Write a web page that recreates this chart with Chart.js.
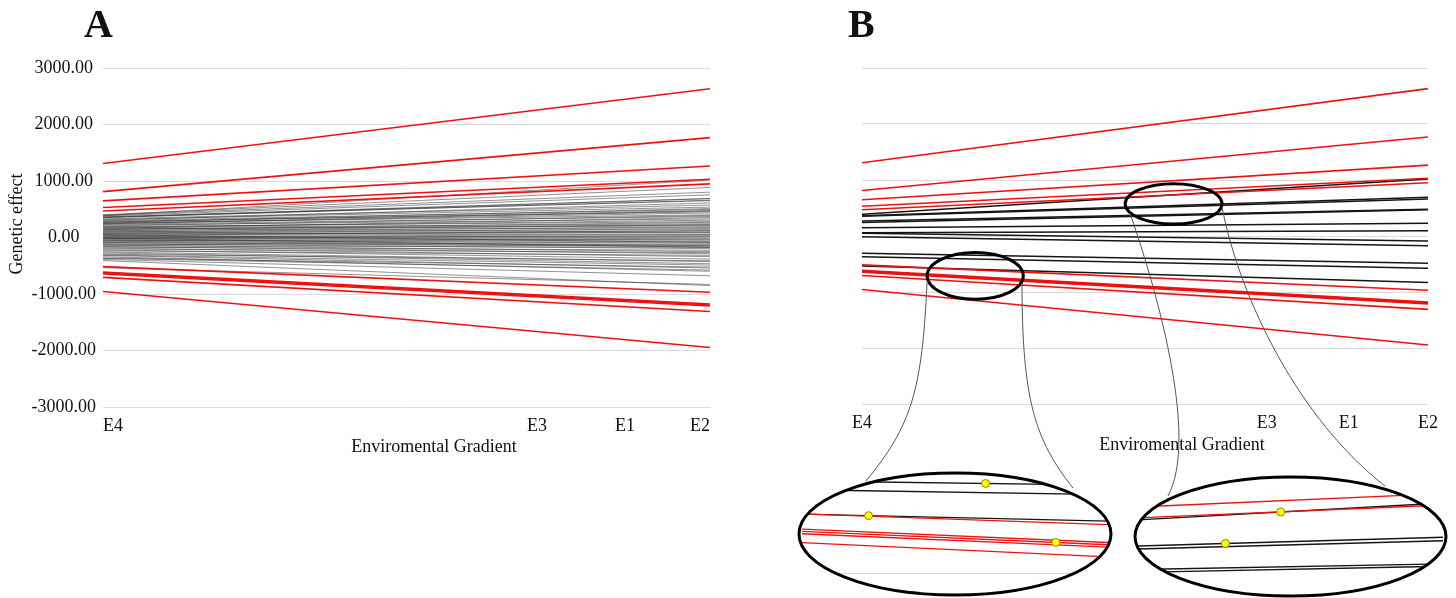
<!DOCTYPE html>
<html lang="en">
<head>
<meta charset="UTF-8">
<title>Genetic effect along the environmental gradient</title>
<script src="https://cdn.jsdelivr.net/npm/chart.js@4.4.1/dist/chart.umd.min.js"></script>
<style>
  html, body { margin: 0; padding: 0; background: #fff; }
  #fig { position: relative; width: 1456px; height: 598px; overflow: hidden; }
  #fig canvas { position: absolute; }
</style>
</head>
<body>
<div id="fig">
  <canvas id="chartA" style="left:0;top:0" width="728" height="470"></canvas>
  <canvas id="chartB" style="left:728px;top:0" width="728" height="598"></canvas>
  <canvas id="zoomLeft" style="left:797px;top:471px" width="316" height="126"></canvas>
  <canvas id="zoomRight" style="left:1133px;top:475px" width="315" height="123"></canvas>
</div>
<script>
// environments along the gradient
const envLabels = ['E4', 'E3', 'E1', 'E2'];
const envPos = [0, 0.715, 0.86, 1];
const yTicks = [-3000, -2000, -1000, 0, 1000, 2000, 3000];

// red genotypes: genetic effect at E4 and at E2
const redE4 = [1309, 812, 648, 530, 470, -515, -612, -628, -645, -705, -955];
const redE2 = [2632, 1768, 1265, 1030, 950, -968, -1178, -1195, -1212, -1310, -1946];

// black genotypes kept in panel B
const keyE4 = [387, 362, 352, 268, 240, 148, 59, 50, -12, -309, -369, -535];
const keyE2 = [1018, 690, 660, 477, 470, 226, 95, -89, -173, -488, -577, -830];

// the other genotypes (panel A only)
const otherE4 = [402, 395, 381, 366, 352, 331, 318, 305, 296, 284, 271, 259, 247, 233, 219, 204, 193, 181, 172, 163,
  151, 139, 127, 118, 104, 96, 85, 73, 64, 42, 33, 21, 12, 3, -8, -17, -26, -38, -47, -55,
  -66, -78, -87, -98, -112, -121, -134, -146, -158, -171, -186, -203, -219, -237, -256, -274, -296, -318, -341, -363, -387, -408];
const otherE2 = [886, 802, 755, 651, 688, 574, 538, 612, 497, 455, 512, 402, 436, 371, 329, 388, 281, 306, 244, 352,
  207, 268, 173, 225, 139, 191, 112, 158, 87, 61, 124, 18, 53, -21, 34, -47, 7, -66, -102, -31,
  -138, -79, -164, -121, -197, -143, -251, -176, -288, -226, -339, -268, -382, -316, -427, -464, -412, -541, -598, -523, -677, -851];

// zoomed windows of panel B (gradient position, genetic effect)
const zoomLeftX = [0.115, 0.285];
const zoomLeftY = [-1130, -294];
const zoomRightX = [0.465, 0.636];
const zoomRightY = [216, 934];

// yellow marks inside the zooms
const dotsLeftX = [0.217, 0.152, 0.256];
const dotsLeftY = [-348, -580, -773];
const dotsRightX = [0.545, 0.514];
const dotsRightY = [731, 531];

const SERIF = '"Liberation Serif", "Times New Roman", serif';
const RED = '#ee1111';
Chart.defaults.font.family = SERIF;
Chart.defaults.color = '#111';
Chart.defaults.animation = false;

function lines(e4, e2, color, width) {
  return e4.map((v, i) => ({
    data: [{x: envPos[0], y: v}, {x: envPos[envPos.length - 1], y: e2[i]}],
    borderColor: color,
    borderWidth: width,
    pointRadius: 0,
    tension: 0
  }));
}

const panelText = {
  id: 'panelText',
  afterDraw(chart, args, o) {
    const ctx = chart.ctx;
    ctx.save();
    ctx.fillStyle = '#111';
    ctx.font = 'bold 40px ' + SERIF;
    ctx.textAlign = 'left';
    ctx.textBaseline = 'alphabetic';
    ctx.fillText(o.letter, o.letterX, o.letterY);
    ctx.font = '18px ' + SERIF;
    ctx.textAlign = 'center';
    ctx.textBaseline = 'middle';
    ctx.fillText(o.xTitle, o.xTitleX, o.xTitleY);
    if (o.yTitle) {
      ctx.translate(o.yTitleX, o.yTitleY);
      ctx.rotate(-Math.PI / 2);
      ctx.fillText(o.yTitle, 0, 0);
    }
    ctx.restore();
  }
};

function mainScales(align, yWidth, showY) {
  return {
    x: {
      type: 'linear', min: 0, max: 1,
      afterBuildTicks: s => { s.ticks = envPos.map(v => ({value: v})); },
      afterFit: s => { s.height = 40; },
      ticks: { callback: (v, i) => envLabels[i], align: align, padding: 0, autoSkip: false, maxRotation: 0, font: {size: 18} },
      grid: { display: false },
      border: { display: false }
    },
    y: {
      min: -3000, max: 3000,
      afterBuildTicks: s => { s.ticks = yTicks.map(v => ({value: v})); },
      afterFit: s => { s.width = yWidth; },
      ticks: { display: showY, callback: v => v.toFixed(2), crossAlign: 'center', padding: 7, font: {size: 18} },
      grid: { color: '#dcdcdc', lineWidth: 1, drawTicks: false },
      border: { display: false }
    }
  };
}

// panel A
new Chart(document.getElementById('chartA'), {
  type: 'line',
  data: {
    datasets: [
      ...lines(redE4, redE2, RED, 1.6),
      ...lines(keyE4, keyE2, 'rgba(40,40,40,0.5)', 1),
      ...lines(otherE4, otherE2, 'rgba(40,40,40,0.5)', 1)
    ]
  },
  options: {
    responsive: false,
    layout: { padding: {top: 68, left: 0, right: 18, bottom: 23} },
    scales: mainScales('inner', 103, true),
    plugins: {
      legend: { display: false },
      tooltip: { enabled: false },
      panelText: { letter: 'A', letterX: 84, letterY: 37, xTitle: 'Enviromental Gradient', xTitleX: 434, xTitleY: 447,
        yTitle: 'Genetic effect', yTitleX: 17, yTitleY: 224 }
    }
  },
  plugins: [panelText]
});

// panel B: small ellipses and the curves leading to the zooms
const zoomMarks = {
  id: 'zoomMarks',
  afterDraw(chart) {
    const {ctx, scales: {x, y}} = chart;
    ctx.save();
    ctx.strokeStyle = '#000';
    ctx.lineWidth = 3;
    [[zoomLeftX, zoomLeftY], [zoomRightX, zoomRightY]].forEach(([xr, yr]) => {
      const x0 = x.getPixelForValue(xr[0]), x1 = x.getPixelForValue(xr[1]);
      const y0 = y.getPixelForValue(yr[0]), y1 = y.getPixelForValue(yr[1]);
      ctx.beginPath();
      ctx.ellipse((x0 + x1) / 2, (y0 + y1) / 2, (x1 - x0) / 2, Math.abs(y0 - y1) / 2, 0, 0, Math.PI * 2);
      ctx.stroke();
    });
    // connector curves (page coordinates, shifted into this canvas)
    const dx = -728;
    const curves = [
      [927, 283, 922, 390, 912, 425, 866, 481],
      [1022, 283, 1022, 400, 1035, 440, 1073, 488],
      [1130, 213, 1160, 300, 1198, 440, 1168, 496],
      [1222, 207, 1240, 300, 1300, 420, 1385, 486]
    ];
    ctx.strokeStyle = '#555';
    ctx.lineWidth = 1;
    curves.forEach(c => {
      ctx.beginPath();
      ctx.moveTo(c[0] + dx, c[1]);
      ctx.bezierCurveTo(c[2] + dx, c[3], c[4] + dx, c[5], c[6] + dx, c[7]);
      ctx.stroke();
    });
    ctx.restore();
  }
};

new Chart(document.getElementById('chartB'), {
  type: 'line',
  data: {
    datasets: [
      ...lines(redE4, redE2, RED, 1.6),
      ...lines(keyE4, keyE2, '#151515', 1.5)
    ]
  },
  options: {
    responsive: false,
    layout: { padding: {top: 68, left: 0, right: 28, bottom: 154} },
    scales: mainScales('center', 134, false),
    plugins: {
      legend: { display: false },
      tooltip: { enabled: false },
      panelText: { letter: 'B', letterX: 120, letterY: 37, xTitle: 'Enviromental Gradient', xTitleX: 454, xTitleY: 445 }
    }
  },
  plugins: [panelText, zoomMarks]
});

// zoom insets, clipped to an ellipse
const ellipseFrame = {
  id: 'ellipseFrame',
  beforeDraw(chart) {
    const {ctx, width, height} = chart;
    ctx.save();
    ctx.beginPath();
    ctx.ellipse(width / 2, height / 2, width / 2 - 2, height / 2 - 2, 0, 0, Math.PI * 2);
    ctx.clip();
  },
  afterDraw(chart) {
    const {ctx, width, height} = chart;
    ctx.restore();
    ctx.save();
    ctx.beginPath();
    ctx.ellipse(width / 2, height / 2, width / 2 - 2, height / 2 - 2, 0, 0, Math.PI * 2);
    ctx.lineWidth = 3;
    ctx.strokeStyle = '#000';
    ctx.stroke();
    ctx.restore();
  }
};

function inset(id, xr, yr, dx, dy) {
  new Chart(document.getElementById(id), {
    type: 'line',
    data: {
      datasets: [
        {
          type: 'scatter',
          data: dx.map((v, i) => ({x: v, y: dy[i]})),
          pointRadius: 4,
          pointBackgroundColor: '#ffff00',
          pointBorderColor: '#8a8a00',
          pointBorderWidth: 1,
          showLine: false
        },
        ...lines(redE4, redE2, RED, 1.3),
        ...lines(keyE4, keyE2, '#151515', 1.4)
      ]
    },
    options: {
      responsive: false,
      layout: { padding: 0 },
      scales: {
        x: { type: 'linear', min: xr[0], max: xr[1], display: false },
        y: {
          min: yr[0], max: yr[1],
          afterBuildTicks: s => { s.ticks = yTicks.map(v => ({value: v})); },
          afterFit: s => { s.width = 0; },
          ticks: { display: false },
          grid: { color: '#dcdcdc', drawTicks: false },
          border: { display: false }
        }
      },
      plugins: { legend: { display: false }, tooltip: { enabled: false } }
    },
    plugins: [ellipseFrame]
  });
}

inset('zoomLeft', zoomLeftX, zoomLeftY, dotsLeftX, dotsLeftY);
inset('zoomRight', zoomRightX, zoomRightY, dotsRightX, dotsRightY);
</script>
</body>
</html>
